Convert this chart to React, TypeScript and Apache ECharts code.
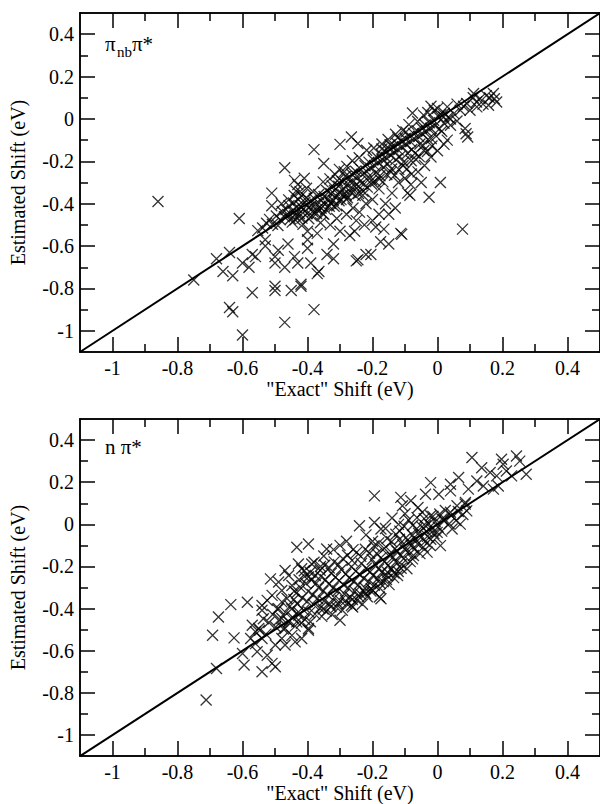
import React, { useEffect, useRef } from "react";
import * as echarts from "echarts";

const X_MAJOR = [-1, -0.8, -0.6, -0.4, -0.2, 0, 0.2, 0.4];
const X_MINOR = [-0.9, -0.7, -0.5, -0.3, -0.1, 0.1, 0.3];
const Y_MAJOR = [-1, -0.8, -0.6, -0.4, -0.2, 0, 0.2, 0.4];
const Y_MINOR = [-0.9, -0.7, -0.5, -0.3, -0.1, 0.1, 0.3];
const AXIS_MIN = -1.1;
const AXIS_MAX = 0.5;
const DIAGONAL = [[-1.1, -1.1], [0.5, 0.5]];

const X_TITLE = '"Exact" Shift (eV)';
const Y_TITLE = "Estimated Shift (eV)";

// pi_nb pi* panel
const PI_NB_OUTLIERS = [
  [-0.86, -0.39], [-0.75, -0.76], [-0.68, -0.66], [-0.66, -0.72], [-0.63, -0.74], [-0.64, -0.63],
  [-0.61, -0.47], [-0.64, -0.89], [-0.63, -0.91], [-0.6, -1.02], [-0.6, -0.68], [-0.58, -0.7],
  [-0.57, -0.82], [-0.57, -0.64], [-0.56, -0.65], [-0.53, -0.6], [-0.53, -0.57], [-0.51, -0.35],
  [-0.5, -0.65], [-0.5, -0.68], [-0.5, -0.79], [-0.5, -0.81], [-0.47, -0.96], [-0.47, -0.23],
  [-0.47, -0.7], [-0.45, -0.81], [-0.49, -0.62], [-0.44, -0.65], [-0.43, -0.68], [-0.46, -0.59],
  [-0.4, -0.57], [-0.39, -0.68], [-0.37, -0.73], [-0.365, -0.72], [-0.42, -0.78], [-0.38, -0.9],
  [-0.34, -0.64], [-0.32, -0.66], [-0.25, -0.67], [-0.22, -0.64], [-0.32, -0.59], [-0.4, -0.61],
  [-0.37, -0.54], [-0.4, -0.53], [-0.42, -0.79], [-0.35, -0.21], [-0.3, -0.12], [-0.265, -0.085],
  [-0.245, -0.116], [-0.38, -0.145], [-0.44, -0.29], [-0.43, -0.31], [-0.435, -0.34], [-0.41, -0.28],
  [-0.51, -0.41], [-0.48, -0.4]
];
const PI_NB_BELOW = [
  [-0.3, -0.53], [-0.27, -0.55], [-0.255, -0.53], [-0.225, -0.5], [-0.2, -0.48], [-0.19, -0.51],
  [-0.18, -0.45], [-0.165, -0.52], [-0.175, -0.58], [-0.15, -0.59], [-0.205, -0.64], [-0.245, -0.665],
  [-0.113, -0.54], [-0.11, -0.545], [-0.092, -0.35], [-0.085, -0.36], [-0.082, -0.31], [-0.026, -0.37],
  [0.009, -0.3], [0.077, -0.52], [-0.33, -0.5], [-0.31, -0.47], [-0.28, -0.45], [-0.26, -0.42],
  [-0.24, -0.44], [-0.22, -0.4], [-0.2, -0.38], [-0.16, -0.4], [-0.14, -0.35], [-0.12, -0.3],
  [-0.1, -0.28], [-0.06, -0.25], [-0.04, -0.22], [-0.02, -0.18], [0.0, -0.15], [-0.05, -0.3],
  [-0.13, -0.42], [-0.18, -0.33], [-0.23, -0.36], [-0.28, -0.38], [-0.31, -0.41], [-0.35, -0.45],
  [-0.36, -0.49], [-0.25, -0.48], [-0.15, -0.45], [-0.08, -0.26], [0.02, -0.12], [0.03, -0.1],
  [0.085, -0.045], [0.088, -0.07], [0.093, -0.085], [0.04, -0.03]
];
const PI_NB_UPPER = [
  [0.111, 0.12], [0.131, 0.096], [0.172, 0.12], [0.182, 0.08], [0.157, 0.065], [0.121, 0.057],
  [0.1, 0.041], [0.09, 0.073], [0.07, 0.041], [0.05, 0.025], [0.03, 0.057], [0.019, 0.009],
  [0.14, 0.07], [0.16, 0.1], [0.12, 0.08], [0.08, 0.06], [0.06, 0.07], [0.15, 0.11],
  [0.175, 0.095], [0.11, 0.1], [0.0, 0.05], [-0.01, 0.04], [0.01, 0.02], [-0.02, 0.06],
  [-0.077, 0.028], [-0.03, 0.03], [0.04, 0.0], [0.06, -0.01], [0.02, -0.02]
];
const PI_NB_BAND = [
  [-0.553, -0.527], [-0.538, -0.515], [-0.526, -0.492], [-0.517, -0.474], [-0.508, -0.497], [-0.496, -0.458],
  [-0.491, -0.503], [-0.484, -0.476], [-0.478, -0.437], [-0.471, -0.462], [-0.466, -0.428], [-0.461, -0.451],
  [-0.457, -0.409], [-0.452, -0.472], [-0.447, -0.433], [-0.443, -0.397], [-0.439, -0.455], [-0.434, -0.418],
  [-0.428, -0.381], [-0.425, -0.446], [-0.421, -0.412], [-0.417, -0.468], [-0.413, -0.426], [-0.408, -0.393],
  [-0.404, -0.372], [-0.401, -0.447], [-0.397, -0.418], [-0.392, -0.388], [-0.388, -0.409], [-0.384, -0.437],
  [-0.379, -0.376], [-0.376, -0.402], [-0.371, -0.428], [-0.366, -0.357], [-0.362, -0.415], [-0.358, -0.386],
  [-0.353, -0.447], [-0.349, -0.366], [-0.346, -0.402], [-0.341, -0.338], [-0.337, -0.378], [-0.333, -0.412],
  [-0.328, -0.352], [-0.324, -0.316], [-0.321, -0.384], [-0.317, -0.337], [-0.313, -0.361], [-0.308, -0.292],
  [-0.304, -0.318], [-0.301, -0.349], [-0.297, -0.381], [-0.293, -0.297], [-0.288, -0.331], [-0.284, -0.272],
  [-0.281, -0.359], [-0.276, -0.306], [-0.272, -0.284], [-0.268, -0.327], [-0.264, -0.261], [-0.259, -0.296],
  [-0.255, -0.318], [-0.252, -0.247], [-0.248, -0.271], [-0.243, -0.352], [-0.239, -0.296], [-0.236, -0.238],
  [-0.231, -0.262], [-0.227, -0.309], [-0.223, -0.221], [-0.219, -0.247], [-0.214, -0.276], [-0.211, -0.204],
  [-0.206, -0.233], [-0.202, -0.288], [-0.198, -0.193], [-0.194, -0.219], [-0.189, -0.252], [-0.186, -0.181],
  [-0.182, -0.207], [-0.177, -0.268], [-0.173, -0.166], [-0.169, -0.193], [-0.166, -0.228], [-0.161, -0.152],
  [-0.157, -0.184], [-0.153, -0.212], [-0.148, -0.142], [-0.144, -0.171], [-0.141, -0.236], [-0.137, -0.131],
  [-0.133, -0.158], [-0.128, -0.193], [-0.124, -0.117], [-0.121, -0.146], [-0.116, -0.178], [-0.112, -0.104],
  [-0.108, -0.132], [-0.104, -0.203], [-0.099, -0.092], [-0.096, -0.121], [-0.092, -0.162], [-0.087, -0.081],
  [-0.083, -0.107], [-0.079, -0.144], [-0.074, -0.068], [-0.071, -0.094], [-0.067, -0.191], [-0.063, -0.055],
  [-0.058, -0.083], [-0.054, -0.118], [-0.049, -0.043], [-0.046, -0.071], [-0.042, -0.149], [-0.038, -0.029],
  [-0.034, -0.058], [-0.029, -0.097], [-0.025, -0.018], [-0.021, -0.044], [-0.017, -0.128], [-0.012, -0.006],
  [-0.008, -0.032], [-0.004, -0.081], [0.002, 0.012], [0.006, -0.047], [0.013, -0.058], [0.021, 0.027],
  [0.033, 0.008], [-0.418, -0.362], [-0.403, -0.327], [-0.383, -0.344], [-0.352, -0.297], [-0.331, -0.283],
  [-0.302, -0.238], [-0.279, -0.224], [-0.262, -0.197], [-0.241, -0.183], [-0.218, -0.148], [-0.196, -0.137],
  [-0.171, -0.118], [-0.152, -0.097], [-0.129, -0.072], [-0.107, -0.054], [-0.088, -0.027], [-0.061, -0.012],
  [-0.043, 0.018]
];
const PI_NB_DENSE = [
  [-0.447, -0.487], [-0.438, -0.476], [-0.426, -0.462], [-0.414, -0.497], [-0.396, -0.471], [-0.386, -0.458],
  [-0.372, -0.446], [-0.358, -0.421], [-0.344, -0.427], [-0.329, -0.398], [-0.318, -0.412], [-0.303, -0.386],
  [-0.291, -0.358], [-0.277, -0.372], [-0.266, -0.347], [-0.253, -0.362], [-0.242, -0.318], [-0.229, -0.341],
  [-0.216, -0.322], [-0.203, -0.307], [-0.191, -0.296], [-0.179, -0.284], [-0.168, -0.297], [-0.156, -0.262],
  [-0.143, -0.251], [-0.132, -0.266], [-0.119, -0.238], [-0.106, -0.221], [-0.094, -0.236], [-0.081, -0.197],
  [-0.069, -0.162], [-0.056, -0.178], [-0.044, -0.126], [-0.031, -0.154], [-0.019, -0.093], [-0.458, -0.382],
  [-0.441, -0.361], [-0.423, -0.343], [-0.315, -0.262], [-0.287, -0.249], [-0.171, -0.142], [-0.146, -0.122],
  [-0.122, -0.089], [-0.097, -0.062]
];

// n pi* panel
const N_PI_SCATTER = [
  [-0.712, -0.834], [-0.68, -0.684], [-0.692, -0.526], [-0.674, -0.44], [-0.636, -0.381], [-0.585, -0.37],
  [-0.626, -0.539], [-0.6, -0.613], [-0.595, -0.668], [-0.54, -0.7], [-0.509, -0.66], [-0.499, -0.676],
  [-0.524, -0.621], [-0.555, -0.605], [-0.56, -0.566], [-0.54, -0.542], [-0.575, -0.542], [-0.55, -0.494],
  [-0.56, -0.51], [-0.57, -0.479], [-0.54, -0.385], [-0.524, -0.361], [-0.509, -0.337], [-0.54, -0.408],
  [-0.514, -0.259], [-0.489, -0.274], [-0.469, -0.219], [-0.458, -0.243], [-0.479, -0.314], [-0.448, -0.29],
  [-0.428, -0.188], [-0.418, -0.211], [-0.387, -0.188], [-0.397, -0.25], [-0.433, -0.109], [-0.397, -0.093],
  [-0.341, -0.117], [-0.489, -0.4], [-0.479, -0.447], [-0.469, -0.494], [-0.448, -0.527], [-0.438, -0.558],
  [-0.458, -0.463], [-0.428, -0.416], [-0.433, -0.463], [-0.397, -0.494], [-0.418, -0.542], [-0.479, -0.542],
  [-0.499, -0.573], [-0.469, -0.573], [-0.3, -0.455], [-0.397, -0.503], [-0.179, -0.345], [-0.174, -0.353],
  [-0.204, -0.306], [-0.225, -0.321], [-0.265, -0.385], [-0.154, -0.227], [-0.123, -0.243], [-0.077, -0.164],
  [-0.032, -0.132], [0.009, -0.101], [-0.001, -0.038], [-0.037, -0.007], [-0.047, 0.057], [-0.021, 0.041],
  [-0.174, -0.022], [-0.194, 0.009], [-0.24, -0.007], [0.045, -0.022], [0.07, 0.001], [0.014, 0.025],
  [0.04, 0.057], [0.06, 0.088], [0.09, 0.064], [0.085, 0.096], [-0.108, 0.088], [-0.082, 0.112],
  [-0.113, 0.128], [0.004, 0.143], [-0.037, 0.143], [0.095, 0.167], [0.04, 0.159], [0.065, 0.222],
  [0.04, 0.19], [-0.021, 0.198], [-0.194, 0.135], [0.187, 0.182], [0.172, 0.167], [0.141, 0.182],
  [0.121, 0.206], [0.228, 0.23], [0.212, 0.253], [0.182, 0.23], [0.162, 0.246], [0.273, 0.238],
  [0.253, 0.3], [0.243, 0.324], [0.202, 0.285], [0.197, 0.309], [0.136, 0.269], [0.106, 0.317],
  [-0.35, -0.15], [-0.32, -0.12], [-0.3, -0.1], [-0.28, -0.08], [-0.26, -0.12], [-0.22, -0.05],
  [-0.2, -0.08], [-0.16, -0.02], [-0.14, 0.03], [-0.12, 0.0], [-0.1, 0.05], [-0.06, 0.08],
  [-0.38, -0.18], [-0.41, -0.22], [-0.36, -0.2]
];
const N_PI_BAND = [
  [-0.547, -0.503], [-0.536, -0.448], [-0.528, -0.521], [-0.519, -0.466], [-0.507, -0.428], [-0.498, -0.487],
  [-0.493, -0.402], [-0.486, -0.452], [-0.479, -0.368], [-0.474, -0.497], [-0.468, -0.418], [-0.463, -0.352],
  [-0.458, -0.461], [-0.454, -0.388], [-0.449, -0.402], [-0.446, -0.441], [-0.442, -0.357], [-0.438, -0.483],
  [-0.434, -0.326], [-0.431, -0.378], [-0.427, -0.431], [-0.423, -0.298], [-0.419, -0.468], [-0.416, -0.349],
  [-0.412, -0.407], [-0.408, -0.452], [-0.405, -0.281], [-0.401, -0.366], [-0.398, -0.318], [-0.394, -0.419],
  [-0.391, -0.462], [-0.387, -0.263], [-0.384, -0.334], [-0.381, -0.381], [-0.377, -0.426], [-0.373, -0.279],
  [-0.369, -0.352], [-0.366, -0.301], [-0.362, -0.398], [-0.359, -0.246], [-0.356, -0.437], [-0.352, -0.317],
  [-0.349, -0.364], [-0.345, -0.263], [-0.342, -0.412], [-0.338, -0.334], [-0.334, -0.283], [-0.331, -0.379],
  [-0.327, -0.232], [-0.324, -0.428], [-0.321, -0.302], [-0.317, -0.348], [-0.314, -0.251], [-0.311, -0.393],
  [-0.307, -0.316], [-0.303, -0.267], [-0.299, -0.362], [-0.296, -0.214], [-0.293, -0.408], [-0.289, -0.287],
  [-0.286, -0.331], [-0.282, -0.236], [-0.279, -0.377], [-0.275, -0.302], [-0.272, -0.254], [-0.268, -0.346],
  [-0.265, -0.201], [-0.261, -0.392], [-0.258, -0.271], [-0.254, -0.318], [-0.251, -0.222], [-0.247, -0.361],
  [-0.244, -0.288], [-0.241, -0.237], [-0.237, -0.331], [-0.234, -0.186], [-0.231, -0.379], [-0.227, -0.256],
  [-0.223, -0.302], [-0.219, -0.208], [-0.216, -0.344], [-0.212, -0.272], [-0.208, -0.226], [-0.205, -0.317],
  [-0.201, -0.167], [-0.198, -0.243], [-0.194, -0.289], [-0.191, -0.191], [-0.187, -0.138], [-0.184, -0.258],
  [-0.181, -0.212], [-0.177, -0.303], [-0.174, -0.159], [-0.171, -0.227], [-0.167, -0.272], [-0.163, -0.176],
  [-0.159, -0.107], [-0.156, -0.243], [-0.152, -0.194], [-0.149, -0.286], [-0.145, -0.143], [-0.142, -0.212],
  [-0.138, -0.158], [-0.135, -0.253], [-0.131, -0.116], [-0.128, -0.179], [-0.124, -0.128], [-0.121, -0.224],
  [-0.117, -0.071], [-0.114, -0.147], [-0.111, -0.191], [-0.107, -0.097], [-0.104, -0.163], [-0.101, -0.118],
  [-0.097, -0.064], [-0.094, -0.211], [-0.091, -0.132], [-0.087, -0.083], [-0.084, -0.177], [-0.081, -0.102],
  [-0.077, -0.052], [-0.074, -0.148], [-0.071, -0.118], [-0.067, -0.073], [-0.064, -0.021], [-0.061, -0.093],
  [-0.058, -0.042], [-0.054, -0.139], [-0.051, -0.062], [-0.048, -0.012], [-0.044, -0.108], [-0.041, 0.027],
  [-0.038, -0.082], [-0.034, -0.033], [-0.031, -0.057], [-0.027, 0.003], [-0.024, -0.098], [-0.021, -0.071],
  [-0.017, -0.022], [-0.014, 0.038], [-0.011, -0.044], [-0.007, 0.012], [-0.003, -0.063], [0.002, -0.013],
  [0.007, 0.049], [0.013, -0.032], [0.019, 0.021], [0.024, 0.066], [0.036, 0.003], [0.043, 0.042],
  [0.057, 0.018], [0.064, 0.061], [0.078, 0.047], [0.086, 0.104]
];
const N_PI_DENSE = [
  [-0.441, -0.317], [-0.426, -0.263], [-0.409, -0.247], [-0.392, -0.227], [-0.376, -0.243], [-0.361, -0.218],
  [-0.347, -0.194], [-0.333, -0.207], [-0.318, -0.178], [-0.305, -0.191], [-0.291, -0.163], [-0.277, -0.147],
  [-0.263, -0.171], [-0.249, -0.133], [-0.236, -0.152], [-0.222, -0.118], [-0.209, -0.137], [-0.195, -0.102],
  [-0.181, -0.088], [-0.168, -0.121], [-0.155, -0.067], [-0.141, -0.083], [-0.128, -0.047], [-0.116, -0.032],
  [-0.103, -0.009], [-0.089, 0.021], [-0.076, -0.004], [-0.063, 0.032], [-0.352, -0.402], [-0.328, -0.391],
  [-0.306, -0.377], [-0.283, -0.362], [-0.262, -0.357], [-0.243, -0.342], [-0.221, -0.328], [-0.199, -0.314],
  [-0.176, -0.281], [-0.157, -0.262], [-0.134, -0.231], [-0.112, -0.208]
];

const PANEL_A = [...PI_NB_OUTLIERS, ...PI_NB_BELOW, ...PI_NB_UPPER, ...PI_NB_BAND, ...PI_NB_DENSE];
const PANEL_B = [...N_PI_SCATTER, ...N_PI_BAND, ...N_PI_DENSE];

const FONT = "Liberation Serif";
const CROSS = "path://M0,0L10,10M0,10L10,0";

function fmt(v: number) {
  return String(Math.round(v * 10) / 10);
}

function makeAxes(dim: "x" | "y", gridIndex: number) {
  const base = {
    type: "value",
    gridIndex,
    min: AXIS_MIN,
    max: AXIS_MAX,
    splitLine: { show: false },
    axisLine: { show: true, onZero: false, lineStyle: { color: "#000", width: 1.5 } },
  };
  const major = dim === "x" ? X_MAJOR : Y_MAJOR;
  const minor = dim === "x" ? X_MINOR : Y_MINOR;
  const pos1 = dim === "x" ? "bottom" : "left";
  const pos2 = dim === "x" ? "top" : "right";
  const tickStyle = { color: "#000", width: 1.5 };
  const main: any = {
    ...base,
    position: pos1,
    name: dim === "x" ? X_TITLE : Y_TITLE,
    nameLocation: "middle",
    nameGap: dim === "x" ? 26 : 52,
    nameTextStyle: { fontFamily: FONT, fontSize: 20, color: "#000" },
    axisTick: { show: true, inside: true, length: 15, customValues: major, lineStyle: tickStyle },
    axisLabel: {
      show: true,
      customValues: major,
      formatter: (v: number) => fmt(v),
      fontFamily: FONT,
      fontSize: 20,
      color: "#000",
      margin: dim === "x" ? 6 : 6,
    },
  };
  const mk = (position: string, vals: number[], len: number) => ({
    ...base,
    position,
    axisTick: { show: true, inside: true, length: len, customValues: vals, lineStyle: tickStyle },
    axisLabel: { show: false },
  });
  return [main, mk(pos1, minor, 8), mk(pos2, major, 15), mk(pos2, minor, 8)];
}

export default function App() {
  const ref = useRef<HTMLDivElement>(null);
  useEffect(() => {
    if (!ref.current) return;
    const chart = echarts.init(ref.current, null, { renderer: "svg" });
    const grids = [
      { left: 76, top: 13, width: 525, height: 339 },
      { left: 76, top: 419, width: 525, height: 338 },
    ];
    const xAxis = [...makeAxes("x", 0), ...makeAxes("x", 1)];
    const yAxis = [...makeAxes("y", 0), ...makeAxes("y", 1)];
    const scatter = (data: number[][], idx: number) => ({
      type: "scatter",
      xAxisIndex: idx,
      yAxisIndex: idx,
      data,
      symbol: CROSS,
      symbolSize: 11,
      itemStyle: { color: "none", borderColor: "#000", borderWidth: 1.3 },
      emphasis: { disabled: true },
      silent: true,
    });
    const diag = (idx: number) => ({
      type: "line",
      xAxisIndex: idx,
      yAxisIndex: idx,
      data: DIAGONAL,
      symbol: "none",
      lineStyle: { color: "#000", width: 2 },
      silent: true,
      z: 3,
    });
    const txt = (x: number, y: number, text: string, size: number) => ({
      type: "text",
      x,
      y,
      style: { text, fontFamily: FONT, fontSize: size, fill: "#000" },
    });
    chart.setOption({
      animation: false,
      backgroundColor: "#fff",
      grid: grids,
      xAxis,
      yAxis,
      series: [scatter(PANEL_A, 0), diag(0), scatter(PANEL_B, 4), diag(4)],
      graphic: [
        txt(105, 33, "π", 21),
        txt(117, 44, "nb", 15),
        txt(132, 33, "π*", 21),
        txt(105, 436, "n π*", 21),
      ],
    });
    return () => chart.dispose();
  }, []);
  return (
    <div
      ref={ref}
      style={{ position: "absolute", left: 0, top: 0, width: 600, height: 804 }}
    />
  );
}
